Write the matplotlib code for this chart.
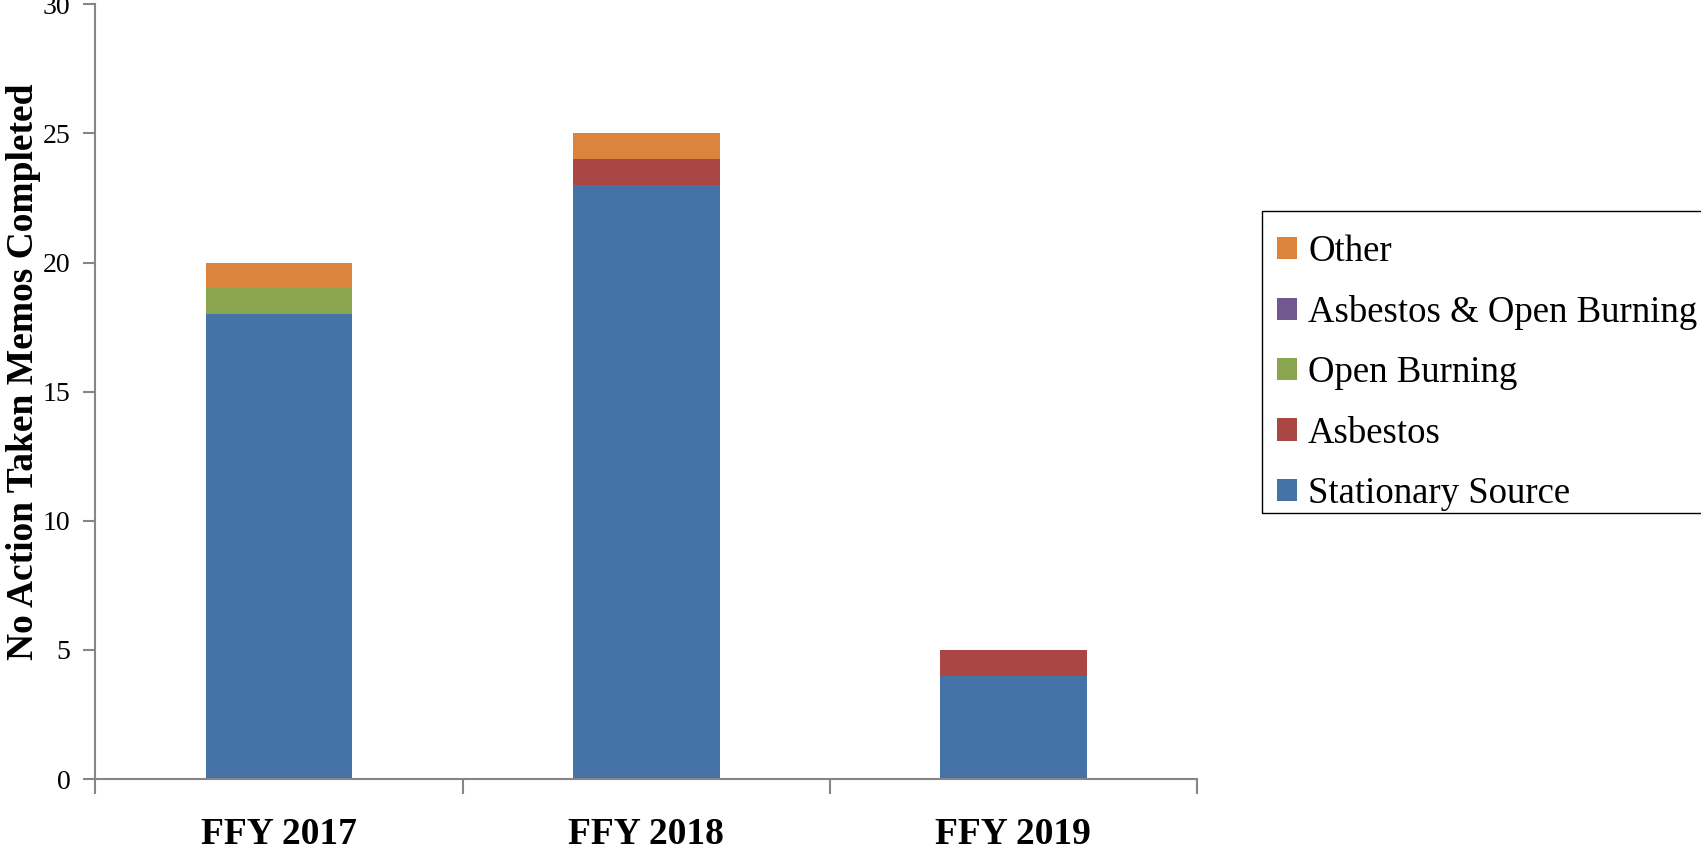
import matplotlib.pyplot as plt
from matplotlib.patches import Rectangle
import numpy as np

plt.rcParams['font.family'] = ['Liberation Serif', 'DejaVu Serif']

years = ["FFY 2017", "FFY 2018", "FFY 2019"]
stationary = [18, 23, 4]
asbestos = [0, 1, 1]
open_burning = [1, 0, 0]
asb_open = [0, 0, 0]
other = [1, 1, 0]

series = [
    ("Stationary Source", stationary, "#4572A7"),
    ("Asbestos", asbestos, "#AA4643"),
    ("Open Burning", open_burning, "#89A54E"),
    ("Asbestos & Open Burning", asb_open, "#71588F"),
    ("Other", other, "#DB843D"),
]

fig = plt.figure(figsize=(17.01, 8.49), dpi=100)
ax = fig.add_axes([0.0561, 0.0824, 0.6476, 0.9126])

x = np.arange(len(years))
bottom = np.zeros(len(years))
handles = []
for name, vals, col in series:
    b = ax.bar(x, vals, 0.4, bottom=bottom, color=col, label=name)
    handles.append(b)
    bottom += np.array(vals)

ax.set_xlim(-0.5, 2.5)
ax.set_ylim(0, 30)
ax.set_yticks([0, 5, 10, 15, 20, 25, 30])
ax.set_xticks([-0.5, 0.5, 1.5, 2.5])
ax.set_xticklabels([])
ax.set_xticks(x, minor=True)
ax.set_xticklabels(years, minor=True, fontsize=27, fontweight='bold')
ax.tick_params(axis='x', which='minor', length=0, pad=27)
ax.tick_params(axis='x', which='major', length=11, width=1.5, color='#868686', direction='out')
ax.tick_params(axis='y', length=9, width=1.5, color='#868686', labelsize=20, pad=9)

for s in ['top', 'right']:
    ax.spines[s].set_visible(False)
for s in ['left', 'bottom']:
    ax.spines[s].set_color('#868686')
    ax.spines[s].set_linewidth(1.5)

fig.text(24 / 1701, 1 - 372 / 849, "No Action Taken Memos Completed", rotation=90,
         ha='center', va='center', fontsize=27, fontweight='bold')

# legend box drawn separately so the rows sit like the original
W, H = 1701, 849
fig.patches.append(Rectangle((1262 / W, 1 - 513 / H), (1720 - 1262) / W, (513 - 211) / H,
                             transform=fig.transFigure, fill=False, edgecolor='black',
                             linewidth=1.0))
leg = fig.legend(handles[::-1], [s[0] for s in series][::-1],
                 loc='upper left', bbox_to_anchor=(1262 / W, 1 - 220 / H),
                 fontsize=26.5, frameon=False, handlelength=0.55,
                 handleheight=0.55, handletextpad=0.3, labelspacing=0.7,
                 borderpad=0.4, borderaxespad=0)

fig.savefig("out.png", dpi=100)
